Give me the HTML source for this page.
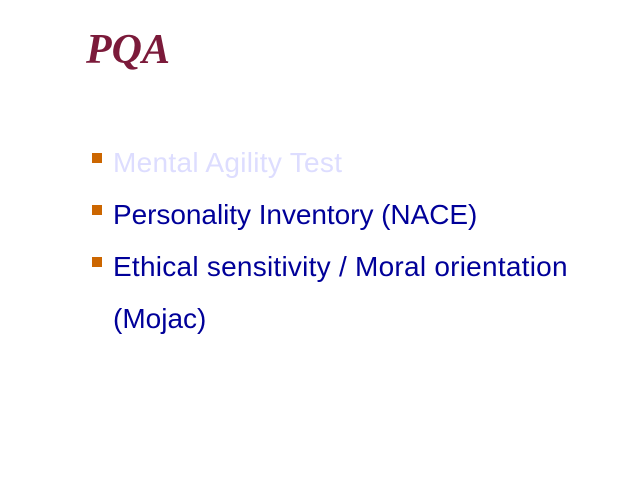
<!DOCTYPE html>
<html><head><meta charset="utf-8"><style>
body{margin:0;width:640px;height:480px;background:#fff;position:relative;overflow:hidden;font-family:"Liberation Sans",sans-serif}
.t{position:absolute;left:86px;top:26px;font:italic bold 42px "Liberation Serif",serif;color:#7b1a3a;margin:0}
.b{position:absolute;left:92px;width:10px;height:10px;background:#cc6600}
.l{position:absolute;left:113px;font-size:28px;color:#000099;white-space:nowrap;line-height:32px}
</style></head><body>
<h1 class="t">PQA</h1>
<div class="b" style="top:153px"></div>
<div class="l" style="top:147px;color:#ddddff;letter-spacing:0.3px">Mental Agility Test</div>
<div class="b" style="top:205px"></div>
<div class="l" style="top:199px;letter-spacing:-0.05px">Personality Inventory (NACE)</div>
<div class="b" style="top:257px"></div>
<div class="l" style="top:251px;letter-spacing:0.25px">Ethical sensitivity / Moral orientation</div>
<div class="l" style="top:303px">(Mojac)</div>
</body></html>
